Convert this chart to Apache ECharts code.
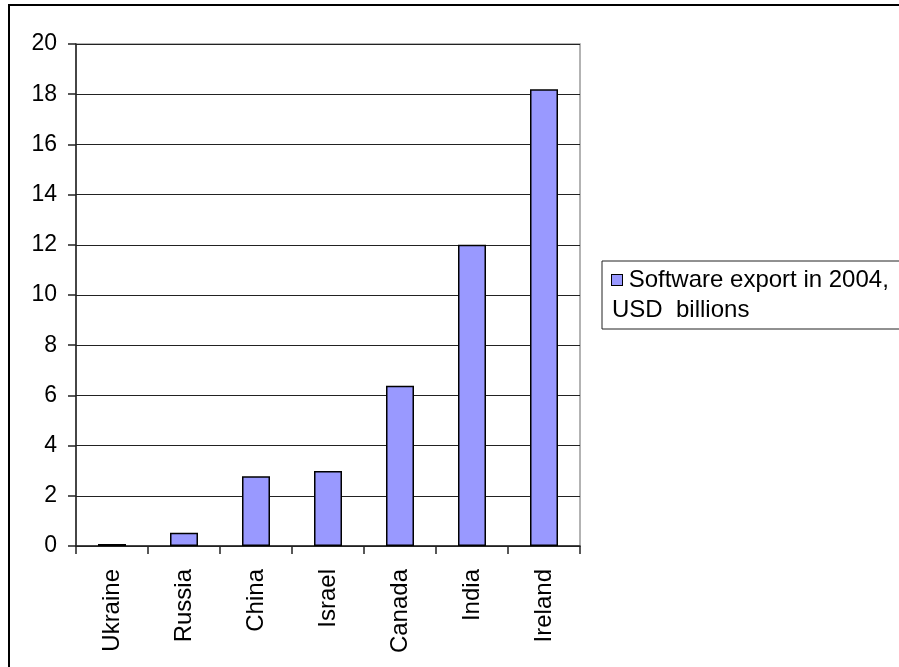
<!DOCTYPE html>
<html>
<head>
<meta charset="utf-8">
<script src="https://cdn.jsdelivr.net/npm/echarts@6/dist/echarts.min.js"></script>
<style>
html,body{margin:0;padding:0;background:#fff;}
#c{width:899px;height:667px;}
</style>
</head>
<body>
<div id="c"></div>
<script>
var categories = ['Ukraine', 'Russia', 'China', 'Israel', 'Canada', 'India', 'Ireland'];
var values = [0.08, 0.53, 2.78, 2.99, 6.38, 12.0, 18.2];
var seriesName = 'Software export in 2004, USD  billions';
var legendLine1 = 'Software export in 2004,';
var legendLine2 = 'USD  billions';
var yMin = 0, yMax = 20, yStep = 2;

var FONT = '"Liberation Sans", Arial, sans-serif';
var chart = echarts.init(document.getElementById('c'), null, {renderer: 'canvas'});
chart.setOption({
  backgroundColor: '#fff',
  animation: false,
  grid: {
    left: 76, right: 319, top: 44, bottom: 121,
    show: true, borderColor: '#9a9a9a', borderWidth: 1.5, backgroundColor: 'transparent'
  },
  graphic: [
    { type: 'rect', shape: {x: 9, y: 5, width: 2000, height: 2000},
      style: {fill: 'none', stroke: '#000', lineWidth: 2}, z: 100 },
    { type: 'rect', shape: {x: 602, y: 261, width: 400, height: 68},
      style: {fill: 'none', stroke: '#222', lineWidth: 1}, z: 100 }
  ],
  legend: {
    show: true,
    left: 606, top: 265,
    icon: 'rect', itemWidth: 0, itemHeight: 0,
    itemStyle: {opacity: 0},
    padding: 0,
    formatter: function () { return '{ic|} ' + legendLine1 + '\n' + legendLine2; },
    textStyle: {
      fontFamily: FONT, fontSize: 24, color: '#000', lineHeight: 30,
      rich: {
        ic: {width: 10, height: 10, backgroundColor: '#9999ff', borderColor: '#000', borderWidth: 1}
      }
    },
    data: [seriesName]
  },
  xAxis: {
    type: 'category',
    data: categories,
    boundaryGap: true,
    axisLine: {show: true, lineStyle: {color: '#222', width: 1.5}},
    axisTick: {show: true, interval: 0, length: 8, alignWithLabel: false, lineStyle: {color: '#222', width: 1.5}},
    axisLabel: {rotate: 90, margin: 23, interval: 0, fontFamily: FONT, fontSize: 24, color: '#000'},
    splitLine: {show: false}
  },
  yAxis: {
    type: 'value',
    min: yMin, max: yMax, interval: yStep,
    axisLine: {show: true, lineStyle: {color: '#222', width: 1.5}},
    axisTick: {show: true, length: 8, lineStyle: {color: '#222', width: 1.5}},
    axisLabel: {margin: 19, fontFamily: FONT, fontSize: 23, color: '#000'},
    splitLine: {show: true, lineStyle: {color: '#222', width: 1}}
  },
  series: [{
    name: seriesName,
    type: 'bar',
    data: values,
    barWidth: 28,
    itemStyle: {color: '#9999ff', borderColor: '#000', borderWidth: 1.5}
  }]
});
</script>
</body>
</html>
